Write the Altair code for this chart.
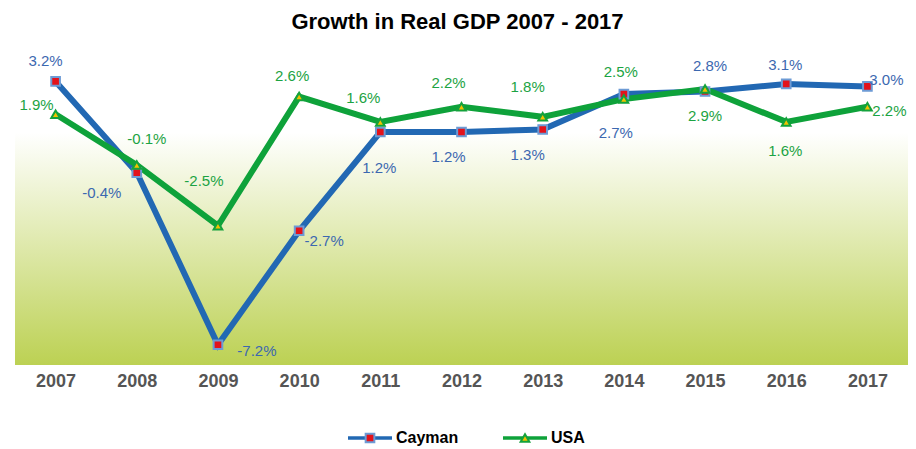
import altair as alt
import pandas as pd

FONT = "Liberation Sans"

# ---- data ----
years = ["2007", "2008", "2009", "2010", "2011", "2012", "2013", "2014", "2015", "2016", "2017"]
cayman = [3.2, -0.4, -7.2, -2.7, 1.2, 1.2, 1.3, 2.7, 2.8, 3.1, 3.0]
usa = [1.9, -0.1, -2.5, 2.6, 1.6, 2.2, 1.8, 2.5, 2.9, 1.6, 2.2]
series_names = ["Cayman", "USA"]

# ---- label placement (pixel offsets from each point) ----
cayman_label_dx = [-10, -35, 39, 25, -1, -13, -15, -8, 5, -1, 19]
cayman_label_dy = [-20, 20, 6, 10, 36, 25, 25, 39, -26, -19, -6]
usa_label_dx = [-19, 10, -14, -7, -17, -13, -15, -3, 0, -1, 22]
usa_label_dy = [-9, -26, -45, -21, -24, -24, -30, -27, 27, 29, 4]

# ---- styles ----
line_color = {"Cayman": "#2268b3", "USA": "#0ea23a"}
marker_fill = {"Cayman": "#e3121b", "USA": "#f2c200"}
marker_stroke = {"Cayman": "#6d9bd5", "USA": "#14a23c"}
marker_shape = {"Cayman": "square", "USA": "triangle-up"}
label_color = {"Cayman": "#3c68b0", "USA": "#1ca343"}

rows = []
for name, vals, dxs, dys in [("Cayman", cayman, cayman_label_dx, cayman_label_dy),
                             ("USA", usa, usa_label_dx, usa_label_dy)]:
    for yr, v, dx, dy in zip(years, vals, dxs, dys):
        rows.append({
            "year": yr, "value": v, "series": name,
            "label": f"{v:.1f}%", "ldx": dx, "ldy": dy,
            "lcolor": line_color[name], "mfill": marker_fill[name],
            "mstroke": marker_stroke[name], "mshape": marker_shape[name],
            "tcolor": label_color[name],
        })
df = pd.DataFrame(rows)

leg_df = pd.DataFrame({
    "series": series_names,
    "lcolor": [line_color[s] for s in series_names],
    "mfill": [marker_fill[s] for s in series_names],
    "mstroke": [marker_stroke[s] for s in series_names],
    "mshape": [marker_shape[s] for s in series_names],
})

X = alt.X("year:O", sort=years,
          axis=alt.Axis(title=None, labelAngle=0, ticks=False, domain=False, grid=False,
                        labelFont=FONT, labelFontSize=18, labelFontWeight="bold",
                        labelColor="#555555", labelPadding=7))
Y = alt.Y("value:Q", scale=alt.Scale(domain=[-8, 4.4], nice=False, zero=False), axis=None)

bg = alt.Chart(pd.DataFrame({"k": [0]})).mark_rect(
    fill=alt.Gradient(gradient="linear",
                      stops=[alt.GradientStop(color="#ffffff", offset=0),
                             alt.GradientStop(color="#ffffff", offset=0.26),
                             alt.GradientStop(color="#bcd153", offset=1)],
                      x1=0, x2=0, y1=0, y2=1)
).encode(x=alt.value(0), x2=alt.value("width"), y=alt.value(0), y2=alt.value("height"))

base = alt.Chart(df)

lines = base.mark_line(strokeWidth=6).encode(
    x=X, y=Y, color=alt.Color("lcolor:N", scale=None)
)

points = base.mark_point(filled=True, opacity=1, strokeWidth=2, size=75).encode(
    x=X, y=Y,
    shape=alt.Shape("mshape:N", scale=None),
    fill=alt.Fill("mfill:N", scale=None),
    stroke=alt.Stroke("mstroke:N", scale=None),
)

labels = base.mark_text(font=FONT, fontSize=15, baseline="middle", align="center",
                        dx={"expr": "datum.ldx"}, dy={"expr": "datum.ldy"}).encode(
    x=X, y=Y, text="label:N", color=alt.Color("tcolor:N", scale=None)
)

main = alt.layer(bg, lines, points, labels).properties(
    width=893, height=314,
    title=alt.TitleParams("Growth in Real GDP 2007 - 2017", font=FONT, fontSize=22,
                          fontWeight="bold", color="#000000", anchor="middle",
                          offset=17, dx=-4)
)

LX = alt.X("series:N", scale=alt.Scale(type="point", domain=series_names,
                                       range=[355, 510], padding=0), axis=None)

leg_line = alt.Chart(leg_df).mark_point(shape="M-1,0H1", filled=False, size=44 * 44,
                                        strokeWidth=3.5, opacity=1).encode(
    x=LX, stroke=alt.Stroke("lcolor:N", scale=None)
)
leg_marker = alt.Chart(leg_df).mark_point(filled=True, opacity=1, strokeWidth=2, size=75).encode(
    x=LX,
    shape=alt.Shape("mshape:N", scale=None),
    fill=alt.Fill("mfill:N", scale=None),
    stroke=alt.Stroke("mstroke:N", scale=None),
)
leg_text = alt.Chart(leg_df).mark_text(font=FONT, fontSize=16, fontWeight="bold",
                                       align="left", baseline="middle", dx=26,
                                       color="#000000").encode(
    x=LX, text="series:N"
)
legend = alt.layer(leg_line, leg_marker, leg_text).properties(width=893, height=20)

chart = alt.vconcat(main, legend, spacing=38).properties(
    padding={"left": 15, "top": 11, "right": 8, "bottom": 0},
    background="white",
).configure_view(stroke=None)

chart.save("out.html", embed_options={"renderer": "svg", "actions": False})
